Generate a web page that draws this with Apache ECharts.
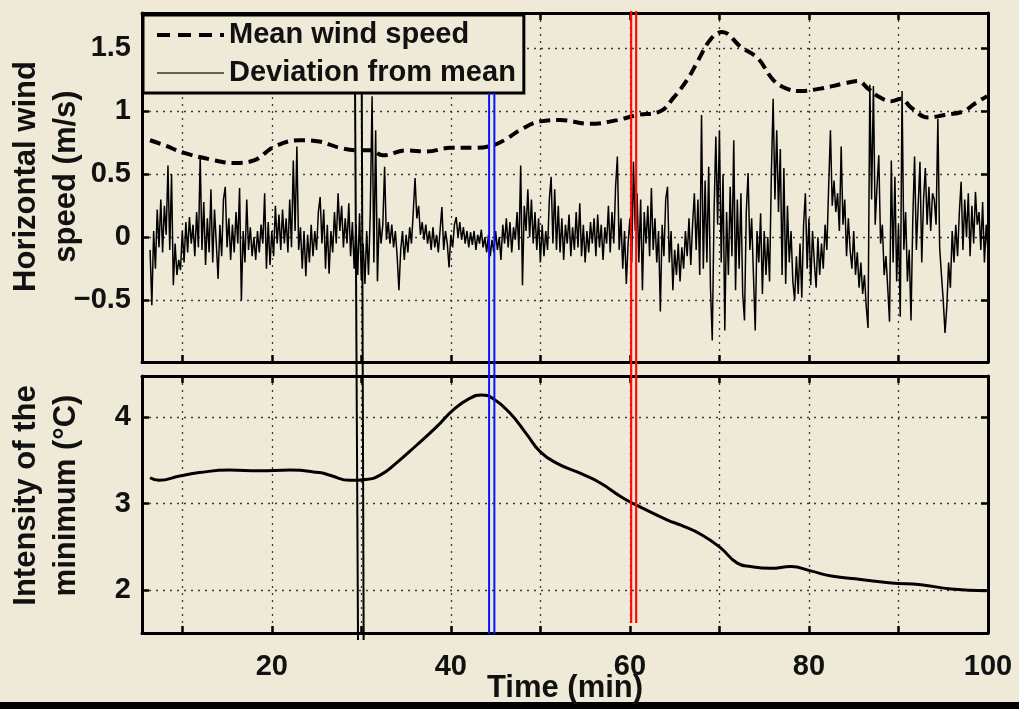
<!DOCTYPE html>
<html>
<head>
<meta charset="utf-8">
<script src="https://cdn.jsdelivr.net/npm/echarts@6/dist/echarts.min.js"></script>
<style>
  html, body { margin: 0; padding: 0; background: #EFEAD7; }
  #chart { width: 1019px; height: 709px; }
</style>
</head>
<body>
<div id="chart"></div>
<script>
// ---- Axis ticks ----
const timeTicks = [10, 20, 30, 40, 50, 60, 70, 80, 90, 100];
const timeLabels = [20, 40, 60, 80, 100];
const windTicks = [-0.5, 0, 0.5, 1, 1.5];
const tempTicks = [2, 3, 4];

// ---- Mean horizontal wind speed (m/s) ----
const meanTime  = [6.4, 8, 10.2, 13, 15.8, 18, 20.3, 23.1, 25.3, 27.6, 29.8, 31, 32.4, 35, 37.3, 39.9,
                   42.6, 44.7, 46.2, 47.7, 50, 52.2, 55.6, 58.6, 60.8, 63.4, 64.9, 66.4, 67.6, 69, 70.3,
                   72.4, 74.3, 76, 77.5, 79.1, 81.3, 83.9, 85.5, 86.6, 87.7, 89.2, 90.3, 91.4, 93.3, 95.1,
                   97.3, 98.5, 99.9];
const meanSpeed = [0.77, 0.73, 0.67, 0.62, 0.59, 0.61, 0.72, 0.77, 0.76, 0.71, 0.69, 0.69, 0.65, 0.69, 0.68, 0.71,
                   0.71, 0.73, 0.78, 0.85, 0.92, 0.93, 0.90, 0.93, 0.97, 1.00, 1.11, 1.25, 1.40, 1.57, 1.63,
                   1.51, 1.42, 1.25, 1.18, 1.16, 1.18, 1.22, 1.24, 1.18, 1.12, 1.08, 1.10, 1.03, 0.95, 0.97,
                   1.00, 1.06, 1.12];

// ---- Deviation from the mean (m/s), sampled every 0.2 min from 6.4 min ----
const devStart = 6.4;
const devStep = 0.2;
const deviation = [
  -0.10, -0.54, 0.05, -0.25, 0.22,   // 6.4
  -0.08, 0.30, -0.12, 0.25, 0.02,    // 7.4
  0.57, -0.10, 0.50, -0.38, -0.05,   // 8.4
  -0.30, -0.18, -0.26, 0.05, -0.20,  // 9.4
  0.12, -0.12, 0.16, -0.05, 0.10,    // 10.4
  -0.15, 0.20, -0.08, 0.64, -0.10,   // 11.4
  0.28, -0.22, 0.15, -0.12, 0.38,    // 12.4
  -0.20, 0.22, -0.05, -0.33, 0.10,   // 13.4
  -0.15, 0.30, 0.40, -0.08, 0.15,    // 14.4
  -0.18, 0.10, -0.12, 0.20, -0.05,   // 15.4
  0.39, -0.50, 0.05, -0.20, 0.30,    // 16.4
  -0.10, 0.08, -0.15, 0.00, -0.18,   // 17.4
  0.05, -0.12, 0.10, -0.05, 0.35,    // 18.4
  -0.25, 0.12, -0.22, 0.05, -0.15,   // 19.4
  0.25, -0.05, 0.18, -0.10, 0.22,    // 20.4
  -0.05, 0.15, -0.12, 0.30, -0.08,   // 21.4
  0.61, 0.05, 0.72, -0.10, 0.08,     // 22.4
  -0.25, 0.05, -0.31, 0.02, -0.20,   // 23.4
  0.10, -0.15, 0.05, -0.10, 0.20,    // 24.4
  0.32, -0.05, 0.22, -0.25, 0.10,    // 25.4
  -0.29, 0.05, -0.12, 0.20, -0.05,   // 26.4
  0.35, 0.05, 0.25, -0.08, 0.15,     // 27.4
  -0.05, 0.27, -0.15, 0.12, -0.25,   // 28.4
  0.10, -0.30, 0.19, -0.34, -0.05,   // 29.4
  -0.37, 0.05, -0.30, 0.20, 1.12,    // 30.4
  -0.20, 0.85, -0.35, 0.15, -0.05,   // 31.4
  0.10, 0.56, -0.02, 0.12, -0.05,    // 32.4
  0.10, -0.08, 0.05, -0.15, -0.42,   // 33.4
  -0.10, 0.05, -0.18, 0.02, -0.12,   // 34.4
  0.08, -0.05, 0.20, 0.47, 0.15,     // 35.4
  0.25, 0.02, 0.12, -0.02, 0.10,     // 36.4
  -0.05, 0.05, -0.10, 0.08, -0.08,   // 37.4
  0.02, -0.12, 0.06, 0.24, -0.10,    // 38.4
  0.05, -0.05, -0.24, 0.02, -0.08,   // 39.4
  0.10, 0.16, 0.00, 0.12, -0.02,     // 40.4
  0.08, -0.05, 0.05, -0.08, 0.04,    // 41.4
  -0.06, 0.05, -0.10, 0.02, -0.05,   // 42.4
  0.06, -0.08, 0.00, -0.12, 0.02,    // 43.4
  -0.15, -0.02, -0.12, 0.05, -0.10,  // 44.4
  0.00, -0.18, 0.10, -0.05, 0.15,    // 45.4
  -0.08, 0.12, -0.12, 0.08, -0.02,   // 46.4
  0.20, -0.10, 0.57, -0.38, 0.25,    // 47.4
  0.05, 0.38, 0.00, 0.30, -0.05,     // 48.4
  0.20, -0.10, 0.15, -0.20, 0.10,    // 49.4
  -0.15, 0.05, -0.10, 0.30, 0.48,    // 50.4
  -0.05, 0.38, -0.10, 0.25, -0.12,   // 51.4
  0.15, -0.18, 0.10, -0.05, 0.18,    // 52.4
  -0.15, 0.08, -0.10, 0.20, -0.08,   // 53.4
  0.27, -0.15, 0.10, -0.20, 0.05,    // 54.4
  -0.12, 0.12, -0.05, 0.15, -0.15,   // 55.4
  0.18, -0.08, 0.10, -0.18, 0.08,    // 56.4
  -0.05, 0.25, -0.12, 0.20, -0.05,   // 57.4
  0.40, 0.64, -0.10, 0.15, -0.25,    // 58.4
  0.05, -0.37, -0.05, 0.15, -0.20,   // 59.4
  0.60, 0.05, 0.35, -0.20, 0.30,     // 60.4
  -0.42, 0.20, -0.05, 0.25, -0.15,   // 61.4
  0.39, -0.10, 0.15, -0.20, 0.05,    // 62.4
  -0.59, 0.10, -0.15, 0.30, 0.40,    // 63.4
  -0.20, 0.05, -0.42, -0.10, -0.30,  // 64.4
  -0.05, -0.35, -0.08, -0.25, 0.05,  // 65.4
  -0.15, 0.15, -0.22, 0.10, 0.35,    // 66.4
  -0.10, 0.30, -0.30, 0.97, -0.25,   // 67.4
  0.45, -0.20, 0.56, -0.40, -0.82,   // 68.4
  0.20, 0.80, 0.10, 0.85, -0.20,     // 69.4
  0.50, -0.74, 0.20, -0.30, 0.40,    // 70.4
  -0.15, 0.77, -0.42, 0.30, -0.25,   // 71.4
  0.35, -0.45, -0.66, 0.20, 0.51,    // 72.4
  -0.10, 0.15, -0.30, -0.74, 0.05,   // 73.4
  -0.20, 0.19, -0.45, 0.05, -0.30,   // 74.4
  0.00, -0.35, 0.50, 1.10, 0.30,     // 75.4
  0.85, 0.20, 0.70, -0.30, 0.55,     // 76.4
  -0.37, 0.25, -0.20, 0.05, -0.35,   // 77.4
  -0.50, -0.15, -0.45, -0.05, -0.48, // 78.4
  0.10, 0.35, -0.25, 0.15, -0.38,    // 79.4
  0.05, -0.20, -0.40, 0.00, -0.30,   // 80.4
  -0.05, -0.25, 0.10, -0.10, 0.40,   // 81.4
  0.85, 0.25, 0.45, 0.20, 0.35,      // 82.4
  0.05, 0.72, 0.10, 0.30, -0.15,     // 83.4
  0.15, -0.10, -0.25, 0.05, -0.30,   // 84.4
  -0.12, -0.40, -0.20, -0.45, -0.30, // 85.4
  -0.55, -0.72, 1.21, 0.30, 1.20,    // 86.4
  0.10, 0.40, 0.65, -0.05, 0.10,     // 87.4
  -0.30, -0.15, -0.40, -0.67, 0.61,  // 88.4
  -0.20, 0.48, -0.35, 0.10, -0.63,   // 89.4
  1.16, -0.10, 0.20, -0.35, -0.10,   // 90.4
  -0.66, 0.15, 0.64, -0.10, 0.25,    // 91.4
  0.60, -0.20, 0.30, 0.55, 0.10,     // 92.4
  0.40, 0.05, 0.35, 0.30, 0.10,      // 93.4
  0.94, -0.08, -0.30, -0.50, -0.76,  // 94.4
  -0.55, -0.20, -0.40, 0.05, -0.20,  // 95.4
  0.10, -0.15, 0.20, 0.44, -0.10,    // 96.4
  0.30, 0.00, 0.35, -0.15, 0.25,     // 97.4
  -0.05, 0.36, 0.10, 0.20, -0.10,    // 98.4
  0.28, -0.20, 0.10, -0.12           // 99.4
];

// ---- Intensity of the temperature minimum (°C) ----
const minTime = [6.4, 7.4, 9.7, 11.9, 15.3, 18.6, 22, 25.3, 26.5, 28.7, 30.5, 32.1, 33.9, 36.2, 38.4, 40.3,
                 42.1, 43.4, 44.7, 46.6, 48.5, 50, 51.8, 54.5, 56.7, 59, 60.4, 64.2, 65.7, 68, 70.1, 72,
                 73.5, 75.7, 78, 80.2, 82.5, 85.8, 89.2, 92.5, 95.9, 99.8];
const minIntensity = [3.30, 3.27, 3.32, 3.36, 3.39, 3.38, 3.39, 3.36, 3.33, 3.27, 3.28, 3.33, 3.47, 3.68, 3.89, 4.09,
                      4.22, 4.26, 4.22, 4.05, 3.80, 3.60, 3.47, 3.35, 3.24, 3.08, 3.00, 2.81, 2.75, 2.64, 2.49, 2.31,
                      2.27, 2.25, 2.27, 2.22, 2.16, 2.12, 2.08, 2.06, 2.01, 1.99];

// ---- Event markers (time in min at upper / lower end of each double line) ----
const blackMarkTop    = [29.30, 30.05];
const blackMarkBottom = [29.63, 30.26];
const blueMark        = [44.27, 44.86];
const redMark         = [60.14, 60.70];

// ---------------------------------------------------------------------------
const BG = '#EFEAD7';
const FONT = 'Liberation Sans, Arial, sans-serif';
const X_MIN = 5.5, X_MAX = 100;

const zip = (xs, ys) => xs.map((x, i) => [x, ys[i]]);
const devData = deviation.map((v, i) => [+(devStart + i * devStep).toFixed(2), v]);

const tickStyle = (vals) => ({
  show: true, inside: true, length: 7, customValues: vals,
  lineStyle: { color: '#000', width: 2.5 }
});
const axisLine = { show: true, onZero: false, lineStyle: { color: '#000', width: 3 } };
const gridLine = { show: true, lineStyle: { color: '#3a3a3a', width: 1.3, type: [2, 5] } };
const labelFont = { fontFamily: FONT, fontWeight: 'bold', fontSize: 29, color: '#111' };
const nameFont = { fontFamily: FONT, fontWeight: 'bold', fontSize: 31, color: '#111', lineHeight: 40 };
const minus = (v) => String(v).replace('-', '\u2212');

function timeAxes(gridIndex, withLabels) {
  return [
    {
      type: 'value', gridIndex, position: 'bottom', min: X_MIN, max: X_MAX,
      axisLine, axisTick: tickStyle(timeTicks), splitLine: gridLine,
      axisLabel: withLabels
        ? Object.assign({ show: true, margin: 19, customValues: timeLabels }, labelFont)
        : { show: false },
      name: withLabels ? 'Time (min)' : '', nameLocation: 'middle', nameGap: 35,
      nameMoveOverlap: false,
      nameTextStyle: nameFont
    },
    {
      type: 'value', gridIndex, position: 'top', min: X_MIN, max: X_MAX,
      axisLine, axisTick: tickStyle(timeTicks), splitLine: { show: false }, axisLabel: { show: false }
    }
  ];
}

function valueAxes(gridIndex, min, max, ticks, name, namePad) {
  return [
    {
      type: 'value', gridIndex, position: 'left', min, max,
      axisLine, axisTick: tickStyle(ticks), splitLine: gridLine,
      axisLabel: Object.assign({ show: true, margin: 11, customValues: ticks, formatter: minus }, labelFont),
      name, nameLocation: 'middle', nameGap: 56, nameMoveOverlap: false,
      nameTextStyle: Object.assign({ padding: namePad }, nameFont)
    },
    {
      type: 'value', gridIndex, position: 'right', min, max,
      axisLine, axisTick: tickStyle(ticks), splitLine: { show: false }, axisLabel: { show: false }
    }
  ];
}

// Overlay frame for the event lines, spanning both panels (y: 0 = bottom, 1 = top).
const OVER_TOP = 12, OVER_BOTTOM = 645;
const frac = (py) => (OVER_BOTTOM - py) / (OVER_BOTTOM - OVER_TOP);

function markLineSeries(name, xTop, xBottom, pyTop, pyBottom, color, width) {
  return {
    name, type: 'line', xAxisIndex: 4, yAxisIndex: 4, z: 10,
    symbol: 'none', silent: true, animation: false,
    lineStyle: { color, width },
    data: [[xTop, frac(pyTop)], [xBottom, frac(pyBottom)]]
  };
}

const chart = echarts.init(document.getElementById('chart'), null, { renderer: 'canvas' });

const gridBase = { left: 142, width: 846, containLabel: false, outerBoundsMode: 'none' };

chart.setOption({
  backgroundColor: BG,
  animation: false,
  grid: [
    Object.assign({ top: 13, height: 349 }, gridBase),
    Object.assign({ top: 376, height: 257 }, gridBase),
    Object.assign({ top: OVER_TOP, height: OVER_BOTTOM - OVER_TOP }, gridBase)
  ],
  xAxis: [
    ...timeAxes(0, false),
    ...timeAxes(1, true),
    { type: 'value', gridIndex: 2, min: X_MIN, max: X_MAX, show: false }
  ],
  yAxis: [
    ...valueAxes(0, -0.99, 1.78, windTicks, 'Horizontal wind\nspeed (m/s)', [0, 0, 0, 22]),
    ...valueAxes(1, 1.5, 4.48, tempTicks, 'Intensity of the\nminimum (\u00B0C)', [0, 0, 0, 18]),
    { type: 'value', gridIndex: 2, min: 0, max: 1, show: false }
  ],
  legend: {
    left: 143, top: 15, orient: 'vertical',
    itemWidth: 67, itemHeight: 14, itemGap: 4,
    padding: [3, 8, 3, 12],
    borderColor: '#000', borderWidth: 3, backgroundColor: BG,
    itemStyle: { opacity: 0 },
    textStyle: { fontFamily: FONT, fontWeight: 'bold', fontSize: 29, color: '#111', lineHeight: 34 },
    data: [
      { name: 'Mean wind speed', lineStyle: { color: '#000', width: 4, type: [13, 8] } },
      { name: 'Deviation from mean', lineStyle: { color: '#333', width: 1.5 } }
    ]
  },
  series: [
    {
      name: 'Deviation from mean', type: 'line', xAxisIndex: 0, yAxisIndex: 0,
      symbol: 'none', showSymbol: false, z: 3,
      itemStyle: { color: '#000' },
      lineStyle: { color: '#000', width: 1.5 },
      data: devData
    },
    {
      name: 'Mean wind speed', type: 'line', xAxisIndex: 0, yAxisIndex: 0,
      symbol: 'none', showSymbol: false, smooth: 0.4, z: 4,
      itemStyle: { color: '#000' },
      lineStyle: { color: '#000', width: 4, type: [11, 6] },
      data: zip(meanTime, meanSpeed)
    },
    {
      name: 'Intensity', type: 'line', xAxisIndex: 2, yAxisIndex: 2,
      symbol: 'none', showSymbol: false, smooth: 0.5, z: 4,
      lineStyle: { color: '#000', width: 3 },
      data: zip(minTime, minIntensity)
    },
    markLineSeries('m1', blackMarkTop[0], blackMarkBottom[0], 93, 640, '#000', 2),
    markLineSeries('m2', blackMarkTop[1], blackMarkBottom[1], 93, 640, '#000', 2),
    markLineSeries('m3', blueMark[0], blueMark[0], 93, 634, '#0a14ff', 2),
    markLineSeries('m4', blueMark[1], blueMark[1], 93, 634, '#0a14ff', 2),
    markLineSeries('m5', redMark[0], redMark[0], 10, 623, '#ff0a0a', 2.2),
    markLineSeries('m6', redMark[1], redMark[1], 10, 623, '#ff0a0a', 2.2)
  ],
  graphic: [
    { type: 'rect', left: 0, top: 702, shape: { width: 1019, height: 7 }, style: { fill: '#000' } }
  ]
});
</script>
</body>
</html>
